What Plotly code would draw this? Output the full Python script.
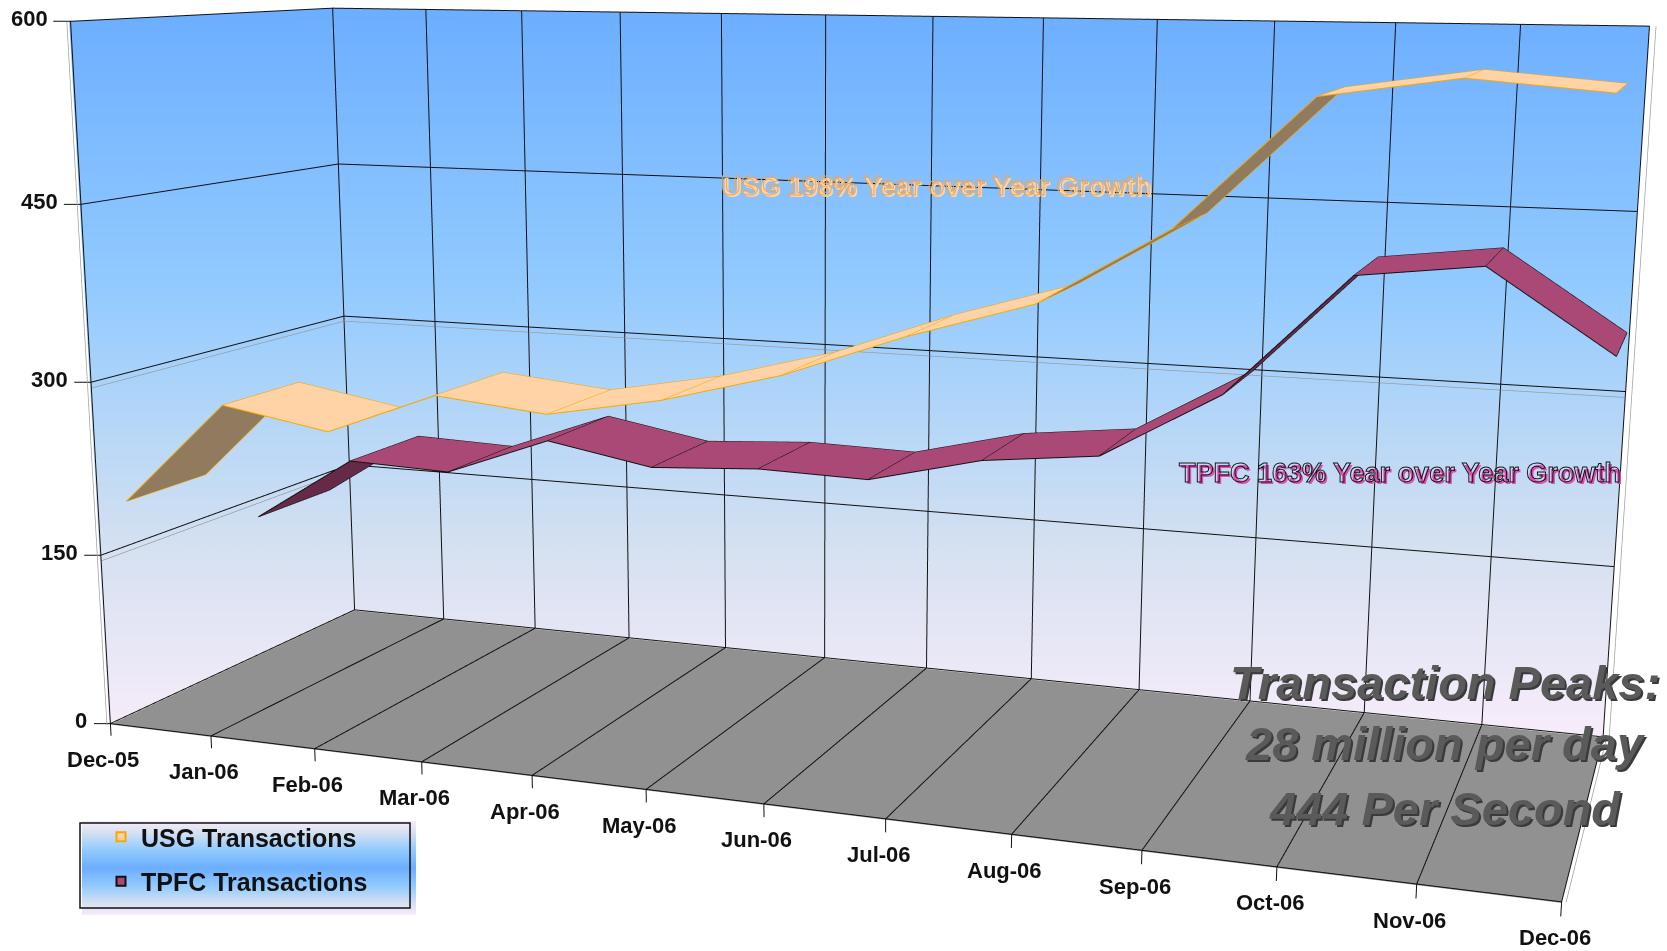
import numpy as np
import plotly.graph_objects as go

W, H = 1667, 951
MONTHS = ["Dec-05","Jan-06","Feb-06","Mar-06","Apr-06","May-06","Jun-06","Jul-06","Aug-06","Sep-06","Oct-06","Nov-06","Dec-06"]
USG = [189,280,264,301,292,310,336,372,402,462,560,575,567]
TPFC = [132,193,190,226,209,215,213,237,248,306,408,420,355]
VALUE_TICKS = [0,150,300,450,600]
USG_UNDER = [0,8,9]
TPFC_UNDER = [0,9]

USG_DEPTH = (0.0977,0.3919)
TPFC_DEPTH = (0.5928,0.9047)
EYE = (1.1851,-3.3311,0.6127)
CEN = (0.0132,-0.1155,-0.1011)
UP = (-0.0029,0.0014,1)
AX, AY, AZ = 2.0, 0.6792, 0.9855
FOCAL = 5.4799
XPAD,YPAD,ZPAD=1.0,0.2,100.0
WALL_STOPS=[(0,"#F8ECFA"),(0.25,"#D6E1F1"),(0.5,"#A8D2FA"),(0.62,"#92CAFF"),(0.75,"#86C1FF"),(1,"#6CAEFF")]
LIT=dict(ambient=1,diffuse=0,specular=0,fresnel=0,roughness=1)
fig=go.Figure()

def shade(x,t,z):
    # the wall gradient runs level across the page, so each wall vertex takes its shade from its height on the page
    e=np.array(EYE);zc=e-np.array(CEN);zc=zc/np.linalg.norm(zc)
    xc=np.cross(UP,zc);xc=xc/np.linalg.norm(xc);yc=np.cross(zc,xc)
    P=np.stack([(x/12-.5)*AX,(t-.5)*AY,(z/600-.5)*AZ],-1)-e
    py=H/2*(1-FOCAL*(P@yc)/-(P@zc))
    return np.clip(1-(py-10)/725,0,1)
def wall(x,y,z,color=None):
    x,y,z=np.array(x,float),np.array(y,float),np.array(z,float)
    kw=dict(surfacecolor=shade(x,y,z),cmin=0,cmax=1,colorscale=[list(s) for s in WALL_STOPS]) if color is None else dict(surfacecolor=np.zeros_like(z),cmin=0,cmax=1,colorscale=[[0,color],[1,color]])
    fig.add_trace(go.Surface(x=x,y=y,z=z,showscale=False,hoverinfo='skip',showlegend=False,lighting=LIT,**kw))
zs=np.linspace(0,600,41)
xs_=np.linspace(-0.012,12,25)
ts_=np.linspace(0,1.003,13)
wall(np.tile(xs_,(len(zs),1)),np.full((len(zs),len(xs_)),1.003),np.tile(zs[:,None],(1,len(xs_))))
wall(np.full((len(zs),len(ts_)),-0.012),np.tile(ts_,(len(zs),1)),np.tile(zs[:,None],(1,len(ts_))))
wall([[0,12],[0,12]],[[0,0],[1,1]],[[-0.8,-0.8],[-0.8,-0.8]],"#919191")

def lines(segs,color,width):
    xs,ys,zz=[],[],[]
    for a,b in segs:
        xs+= [a[0],b[0],None];ys+=[a[1],b[1],None];zz+=[a[2],b[2],None]
    fig.add_trace(go.Scatter3d(x=xs,y=ys,z=zz,mode='lines',line=dict(color=color,width=width),hoverinfo='skip',showlegend=False))
grid=[]
for i in range(1,12):
    grid.append(((i,1,0),(i,1,600)))
    grid.append(((i,0,0),(i,1,0)))
for v in VALUE_TICKS:
    grid.append(((0,0,v),(0,1,v)))
    grid.append(((0,1,v),(12,1,v)))
grid+= [((0,1,0),(0,1,600)),((12,1,0),(12,1,600)),((0,0,0),(0,0,600)),((0,0,0),(12,0,0)),((12,0,0),(12,1,0))]
ticks=[((i,0,0),(i,0,-11)) for i in range(13)]+[((-0.13,-0.012,v),(0,0,v)) for v in VALUE_TICKS]
lines(grid+ticks,"#111111",2)
lines([((0,-0.012,0),(0,-0.012,600)),((12.05,1,0),(12.05,1,600)),((12.03,0,0),(12.03,1,0)),((0,0,295),(0,1,295)),((0,1,295),(12,1,295)),((0,0,145),(0,1,145))],"#999999",1.4)

def ribbon(vals,depth,top,under,under_idx,edge):
    n=len(vals);xs=list(range(n))
    x=xs+xs;y=[depth[0]]*n+[depth[1]]*n;z=list(vals)+list(vals)
    I,J,K,C=[],[],[],[]
    for s in range(n-1):
        col=under if s in under_idx else top
        I+=[s,s];J+=[s+1,n+s+1];K+=[n+s+1,n+s];C+=[col,col]
    fig.add_trace(go.Mesh3d(x=x,y=y,z=z,i=I,j=J,k=K,facecolor=C,flatshading=True,lighting=LIT,hoverinfo='skip',showlegend=False))
    seg=[]
    for s in range(n):
        seg.append(((s,depth[0],vals[s]),(s,depth[1],vals[s])))
        if s<n-1:
            seg.append(((s,depth[0],vals[s]),(s+1,depth[0],vals[s+1])))
            seg.append(((s,depth[1],vals[s]),(s+1,depth[1],vals[s+1])))
    lines(seg,edge,2)
ribbon(USG,USG_DEPTH,"#FFD3A6","#917B5F",USG_UNDER,"#F7A800")
ribbon(TPFC,TPFC_DEPTH,"#AA4876","#642A46",TPFC_UNDER,"#111111")

for nm,fill,ed in [("USG Transactions","#FFD3A6","#F7A800"),("TPFC Transactions","#AA4876","#111111")]:
    fig.add_trace(go.Scatter3d(x=[None],y=[None],z=[None],mode='markers',name=nm,legendgroup=nm,
        marker=dict(symbol='square',size=9,color=fill,line=dict(color=ed,width=2))))

LF=dict(family="Liberation Sans",size=22,color="#111111",weight="bold")
sa=[dict(x=i,y=0,z=0,text=m,showarrow=False,font=LF,xshift=-7,yshift=-36) for i,m in enumerate(MONTHS)]
sa+=[dict(x=0,y=0,z=v,text=str(v),showarrow=False,font=LF,xanchor='right',xshift=-21,yshift=3) for v in VALUE_TICKS]

def hexrgb(h): return np.array([int(h[i:i+2],16) for i in (1,3,5)],float)
def wallcol(f):
    fs=[s[0] for s in WALL_STOPS];cs=np.array([hexrgb(s[1]) for s in WALL_STOPS])
    return "rgb(%d,%d,%d)"%tuple(np.interp(f,fs,cs[:,k]) for k in range(3))
def px(x,y): return dict(xref='paper',yref='paper',x0=x[0]/W,x1=x[1]/W,y0=1-y[0]/H,y1=1-y[1]/H)
shapes=[]
L0,L1,T0,T1=82,416,821,915
N=47
for k in range(N):
    a=T0+(T1-T0)*k/N;b=T0+(T1-T0)*(k+1)/N
    f=1-abs((k+.5)/N-.5)*2
    shapes.append(dict(type='rect',line=dict(width=0),fillcolor=wallcol(f),**px((L0,L1),(a,b))))
shapes.append(dict(type='rect',line=dict(color="#111111",width=1.5),fillcolor="rgba(0,0,0,0)",**px((80,410),(823,908))))

def note(text,x,y,**font):
    return dict(xref='paper',yref='paper',x=x/W,y=1-y/H,xanchor='center',yanchor='middle',text=text,showarrow=False,font=dict(family="Liberation Sans",weight="bold",**font))
HOLLOW_U="rgb(245,165,75)";HOLLOW_T="rgb(20,20,20)"
ann=[note("USG 198% Year over Year Growth",938,188,size=27,color="#FFD3A6"),
     note("USG 198% Year over Year Growth",936,186,size=27,color=HOLLOW_U),
     note("TPFC 163% Year over Year Growth",1402,475,size=27,color="#DD4FAE"),
     note("TPFC 163% Year over Year Growth",1400,473,size=27,color=HOLLOW_T)]
for t,y in [("Transaction Peaks:",682),("28 million per day",743),("444 Per Second",808)]:
    ann.append(note(t,1445,y,size=47,color="#5A5A5A",style="italic",shadow="2px 2px 0 #3A3A3A"))

AXK=dict(visible=False,showspikes=False)
fig.update_layout(width=W,height=H,margin=dict(l=0,r=0,t=0,b=0),paper_bgcolor="white",shapes=shapes,annotations=ann,
 showlegend=True,
 legend=dict(x=101/W,y=1-814/H,xanchor='left',yanchor='top',bgcolor='rgba(0,0,0,0)',borderwidth=0,itemwidth=30,tracegroupgap=9,
   font=dict(family="Liberation Sans",size=25,color="#111111",weight="bold")),
 scene=dict(domain=dict(x=[0,1],y=[0,1]),bgcolor="white",dragmode=False,
  xaxis=dict(range=[-XPAD,12+XPAD],**AXK),yaxis=dict(range=[-YPAD,1+YPAD],**AXK),zaxis=dict(range=[-ZPAD,600+ZPAD],**AXK),
  aspectmode='manual',aspectratio=dict(x=AX*(12+2*XPAD)/12,y=AY*(1+2*YPAD),z=AZ*(600+2*ZPAD)/600),
  annotations=sa,
  camera=dict(eye=dict(x=EYE[0],y=EYE[1],z=EYE[2]),center=dict(x=CEN[0],y=CEN[1],z=CEN[2]),up=dict(x=UP[0],y=UP[1],z=UP[2]),projection=dict(type='perspective'))))
fov=2*np.arctan(1/FOCAL)
js=("document.body.style.margin='0';var gd=document.getElementById('{plot_id}');var s=gd._fullLayout.scene._scene;s.glplot.fovy=%f;s.glplot.redraw();"
    "var hollow=['%s','%s'];document.querySelectorAll('.annotation-text').forEach(function(t){var c=t.style.fill.replace(/ /g,'');"
    "if(hollow.indexOf(c)>=0){t.style.stroke=c;t.style.strokeWidth='1px';t.style.fill='none';}});")%(fov,HOLLOW_U.replace(' ',''),HOLLOW_T.replace(' ',''))
fig.write_html("out.html",post_script=js,config=dict(displayModeBar=False))
